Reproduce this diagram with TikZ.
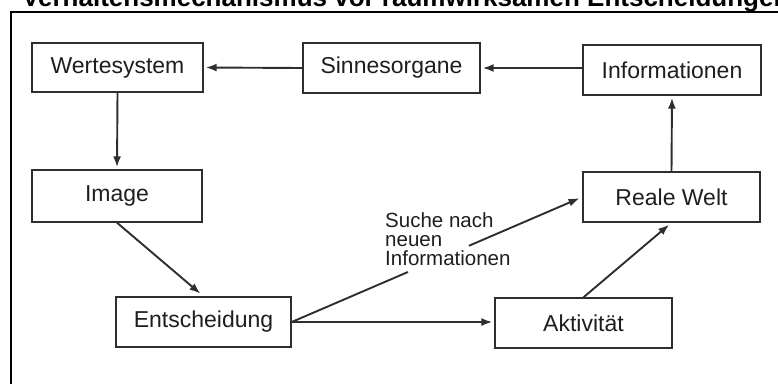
\documentclass[tikz,border=0pt]{standalone}
\usepackage{fontspec}
\setmainfont{Liberation Sans}
\usetikzlibrary{arrows.meta}
\definecolor{ink}{HTML}{1E1E1E}
\definecolor{rule}{HTML}{2E2E2E}
\begin{document}
\begin{tikzpicture}[x=1pt,y=-1pt,
  box/.style={draw=rule,line width=1.4pt,rectangle,inner sep=0pt,
    minimum width=176pt,minimum height=50pt,text=ink,
    font=\fontsize{23}{26}\selectfont},
  flow/.style={draw=rule,line width=1.9pt,-{Latex[length=11pt,width=8pt]}},
  plain/.style={draw=rule,line width=1.9pt}]
\useasboundingbox (0,0) rectangle (778,383);
\clip (0,0) rectangle (778,383);

% heading, cut by the page edge
\node[anchor=base west,inner sep=0pt,text=black,
  font=\fontsize{26}{30}\selectfont\bfseries] (title) at (22,6.5)
  {Verhaltensmechanismus vor raumwirksamen Entscheidungen};

% outer frame
\draw[black,line width=2pt] (10.5,400) -- (10.5,11.5) -- (800,11.5);

% boxes
\node[box,minimum width=171pt,minimum height=49pt] (wert) at (117.5,67.5) {Wertesystem};
\node[box,minimum width=177pt] (sinn) at (391.5,68) {Sinnesorgane};
\node[box,minimum width=178pt] (info) at (672,70) {Informationen};
\node[box,minimum width=170pt,minimum height=52pt] (img) at (117,196) {Image};
\node[box,minimum width=177pt] (welt) at (671.5,197) {Reale Welt};
\node[box,minimum width=175pt] (ent) at (203.5,322) {Entscheidung};
\node[box,minimum width=177pt] (akt) at (583.5,323) {Aktivität};

% connectors
\draw[flow,shorten >=2pt] (sinn.west) -- (wert.east);
\draw[flow,shorten >=2pt] (info.west |- sinn.east) -- (sinn.east);
\draw[flow,shorten >=2pt] (wert.south) -- (img.north);
\draw[flow,shorten >=2pt] (welt.north) -- (info.south);
\draw[flow,shorten >=4pt] (img.south) -- (ent.north);
\draw[flow,shorten >=2pt] (ent.east) -- (akt.west |- ent.east);
\draw[flow,shorten >=3pt] (akt.north) -- (welt.south);

% search branch, interrupted by its label
\path (ent.east) -- (welt.west)
  coordinate[pos=0.40] (gapA)
  coordinate[pos=0.61] (gapB);
\draw[plain] (ent.east) -- (gapA);
\draw[flow,shorten >=3pt] (gapB) -- (welt.west);
\node[anchor=north west,inner sep=0pt,align=left,text=ink,
  font=\fontsize{20.5}{19}\selectfont] (suche) at (385,212.5)
  {Suche nach\\neuen\\Informationen};
\end{tikzpicture}
\end{document}
